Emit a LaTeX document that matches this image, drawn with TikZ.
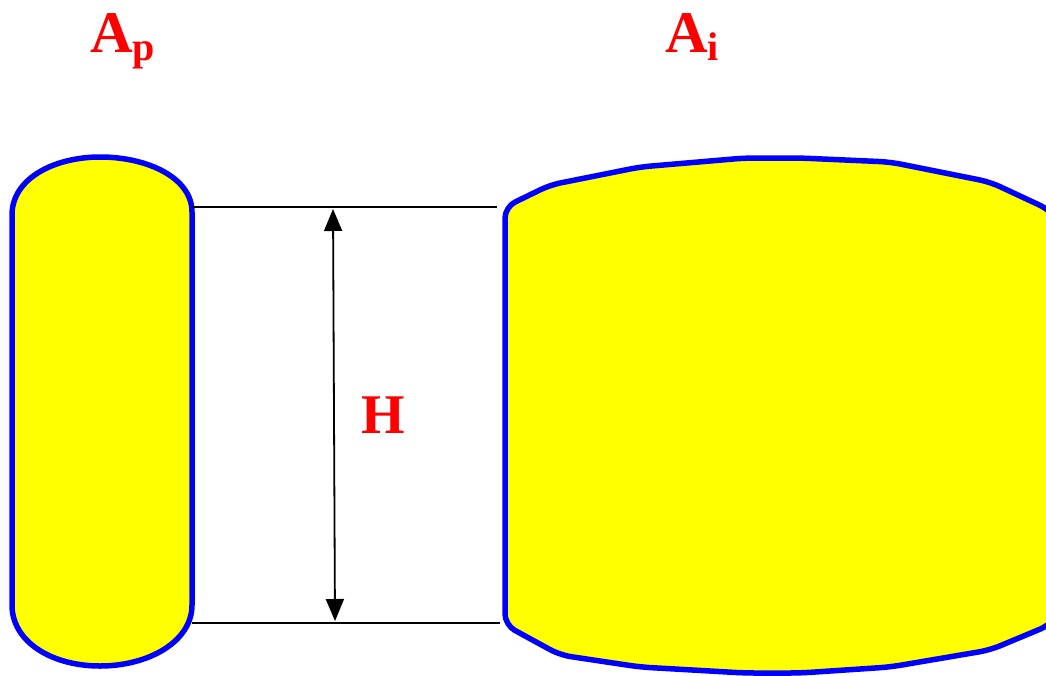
\documentclass[tikz,border=0pt]{standalone}
\usepackage{fontspec}
\setmainfont{Liberation Serif}
\usetikzlibrary{arrows.meta}
\definecolor{yel}{RGB}{255,255,0}
\definecolor{blu}{RGB}{0,0,255}
\definecolor{rd}{RGB}{255,0,0}
\begin{document}
\begin{tikzpicture}[x=1pt,y=-1pt,
  blob/.style={draw=blu, fill=yel, line width=5.5pt, line join=round},
  guide/.style={draw=black, line width=1.8pt},
  dim/.style={draw=black, line width=1.8pt, arrows={Triangle[length=22pt,width=18pt]-Triangle[length=22pt,width=18pt]}},
  lbl/.style={text=rd, font=\bfseries\fontsize{59}{59}\selectfont, inner sep=0pt, anchor=base west}]
\clip (0,0) rectangle (1046,675);
% left body A_p
\draw[blob] (12,600) -- (12,215) .. controls (12,178) and (55,157) .. (100,157)
  .. controls (148,157) and (192,178) .. (192,212) -- (192,605)
  .. controls (192,642) and (148,666) .. (100,666)
  .. controls (52,666) and (12,642) .. (12,605) -- cycle;
% right body A_i
\draw[blob, rounded corners=11pt] (505,400) -- (505,207) -- (550,185) -- (640,167)
  -- (745,158) -- (800,158) -- (890,162) -- (990,182) -- (1050,210) -- (1085,260)
  -- (1085,580) -- (1050,625) -- (990,650) -- (890,667) -- (800,673) -- (745,673)
  -- (640,667) -- (560,655) -- (505,625) -- cycle;
% guide lines
\coordinate (lt) at (192,207);
\coordinate (rt) at (497,207);
\coordinate (lb) at (192,623);
\coordinate (rb) at (500,623);
\coordinate (at) at (333,209);
\coordinate (ab) at (335,621);
\draw[guide] (lt) -- (rt);
\draw[guide] (lb) -- (rb);
\draw[dim] (at) -- (ab);
% labels
\node[lbl] (ap) at (90,52) {A\raisebox{-8pt}{\fontsize{40}{40}\selectfont p}};
\node[lbl] (ai) at (665,52) {A\raisebox{-8pt}{\fontsize{40}{40}\selectfont i}};
\node[lbl, font=\bfseries\fontsize{56}{56}\selectfont] (h) at (361,433) {H};
\end{tikzpicture}
\end{document}
